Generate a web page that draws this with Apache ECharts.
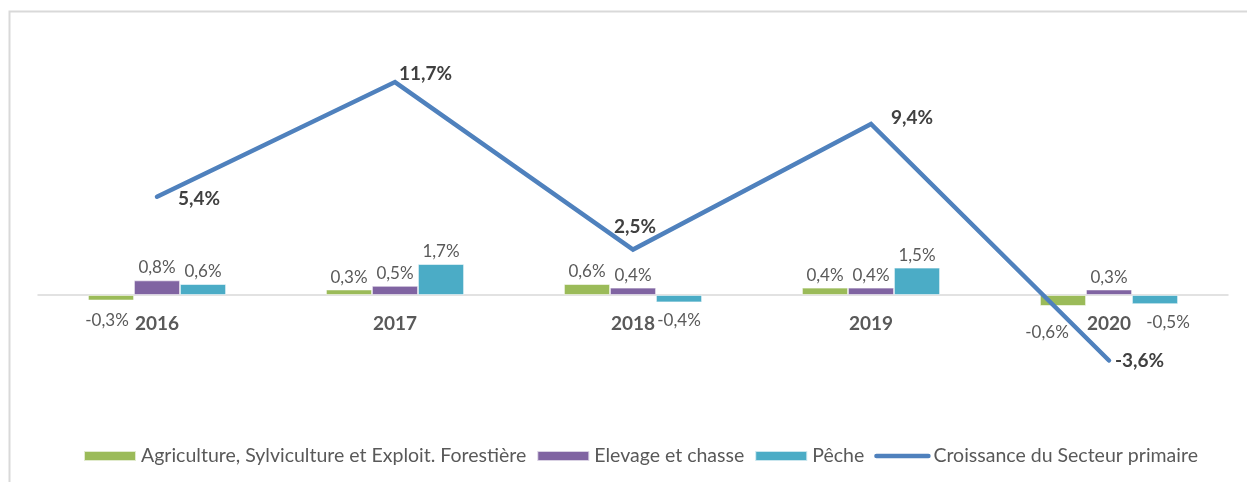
<!DOCTYPE html>
<html>
<head>
<meta charset="utf-8">
<script src="https://cdn.jsdelivr.net/npm/echarts@6/dist/echarts.min.js"></script>
<style>
  html, body { margin: 0; padding: 0; background: #fff; }
  #chart { width: 1247px; height: 482px; }
</style>
</head>
<body>
<div id="chart"></div>
<script>
// années
const years = ['2016', '2017', '2018', '2019', '2020'];

// contributions (points de %)
const agriculture = [-0.3, 0.3, 0.6, 0.4, -0.6];
const elevage = [0.8, 0.5, 0.4, 0.4, 0.3];
const peche = [0.6, 1.7, -0.4, 1.5, -0.5];

// croissance du secteur primaire
const croissance = [5.4, 11.7, 2.5, 9.4, -3.6];

const seriesNames = [
  'Agriculture, Sylviculture et Exploit. Forestière',
  'Elevage et chasse',
  'Pêche',
  'Croissance du Secteur primaire'
];

const FONT = 'Lato';

function pct(v) {
  return v.toFixed(1).replace('.', ',') + '%';
}

// placement des étiquettes de la courbe, point par point
const lineLabelPos = [
  { position: 'right', distance: 21, offset: [0, 2] },
  { position: 'right', distance: 4, offset: [0, -8] },
  { position: 'top', distance: 13, offset: [2, 0] },
  { position: 'right', distance: 20, offset: [0, -6] },
  { position: 'right', distance: 6, offset: [0, 0] }
];

// décalages manuels de quelques étiquettes de barres (comme dans l'original)
const agriLabelShift = [[-4, 2], [0, 0], [0, 0], [0, 0], [-16, 8]];
const pecheLabelShift = [[0, 0], [0, 0], [0, 0], [0, 0], [13, 0]];

function barData(values, shifts) {
  return values.map((v, i) => ({
    value: v,
    label: {
      position: v >= 0 ? 'top' : 'bottom',
      distance: v >= 0 ? 4 : 10,
      offset: shifts ? shifts[i] : [0, 0]
    }
  }));
}

function barSeries(name, values, color, shifts) {
  return {
    name: name,
    type: 'bar',
    barWidth: 46,
    barGap: '0%',
    data: barData(values, shifts),
    itemStyle: { color: color, borderColor: 'rgba(255,255,255,0.7)', borderWidth: 0.8 },
    label: {
      show: true,
      fontFamily: FONT,
      fontSize: 17,
      color: '#595959',
      formatter: p => pct(p.value)
    }
  };
}

const chart = echarts.init(document.getElementById('chart'));

const option = {
  animation: false,
  backgroundColor: '#fff',
  textStyle: { fontFamily: FONT },
  graphic: [{
    type: 'rect',
    shape: { x: 9.5, y: 11.5, width: 1400, height: 600 },
    style: { fill: 'none', stroke: '#d9d9d9', lineWidth: 2 },
    silent: true,
    z: -1
  }],
  legend: {
    left: 78,
    top: 441,
    itemWidth: 52,
    itemHeight: 10,
    itemGap: 10,
    textStyle: { fontFamily: FONT, fontSize: 19.5, color: '#595959' },
    data: [
      { name: seriesNames[0], icon: 'rect' },
      { name: seriesNames[1], icon: 'rect' },
      { name: seriesNames[2], icon: 'rect' },
      { name: seriesNames[3], itemStyle: { opacity: 0 }, lineStyle: { width: 4.5, cap: 'round' } }
    ]
  },
  grid: { left: 38, right: 19, top: 22, height: 364, containLabel: false },
  xAxis: {
    type: 'category',
    data: years,
    axisLine: { onZero: true, lineStyle: { color: '#d9d9d9', width: 1.5 } },
    axisTick: { show: false },
    axisLabel: {
      fontFamily: FONT,
      fontSize: 19,
      fontWeight: 'bold',
      color: '#595959',
      margin: -72
    }
  },
  yAxis: {
    type: 'value',
    min: -5,
    max: 15,
    show: false,
    splitLine: { show: false }
  },
  series: [
    barSeries(seriesNames[0], agriculture, '#9BBB59', agriLabelShift),
    barSeries(seriesNames[1], elevage, '#8064A2'),
    barSeries(seriesNames[2], peche, '#4BACC6', pecheLabelShift),
    {
      name: seriesNames[3],
      type: 'line',
      symbol: 'circle',
      symbolSize: 0,
      z: 5,
      lineStyle: { color: '#4F81BD', width: 4.5, cap: 'round', join: 'miter' },
      itemStyle: { color: '#4F81BD' },
      data: croissance.map((v, i) => ({ value: v, label: lineLabelPos[i] })),
      label: {
        show: true,
        fontFamily: FONT,
        fontSize: 19,
        fontWeight: 'bold',
        color: '#404040',
        formatter: p => pct(p.value)
      }
    }
  ]
};

chart.setOption(option);
</script>
</body>
</html>
